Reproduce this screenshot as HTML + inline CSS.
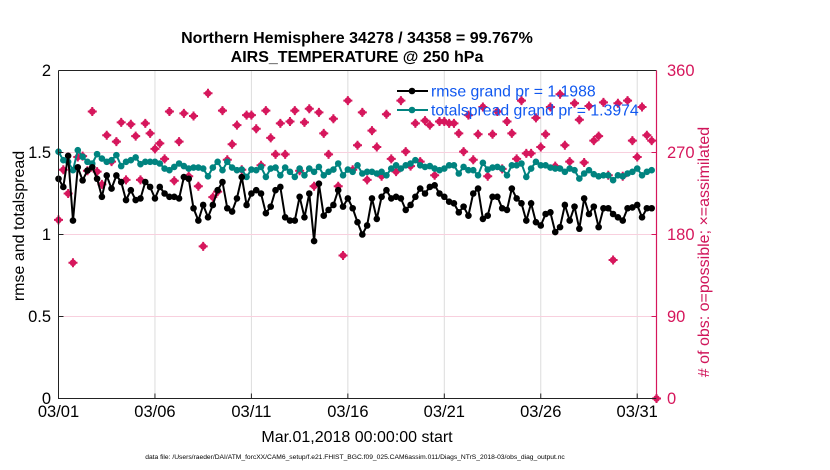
<!DOCTYPE html>
<html><head><meta charset="utf-8"><style>
html,body{margin:0;padding:0;background:#fff;}
svg{display:block;font-family:"Liberation Sans",Arial,sans-serif;}
</style></head><body>
<svg id="chart" width="830" height="470" viewBox="0 0 830 470">
<rect width="830" height="470" fill="#fff"/>
<text x="357" y="43" text-anchor="middle" font-size="16" font-weight="bold">Northern Hemisphere 34278 / 34358 = 99.767%</text>
<text x="357" y="62" text-anchor="middle" font-size="16" font-weight="bold">AIRS_TEMPERATURE @ 250 hPa</text>
<g id="grid"></g>
<g id="series"></g>
<g id="axes"></g>
<g id="legend"></g>
<text transform="translate(24,226) rotate(-90)" text-anchor="middle" font-size="16">rmse and totalspread</text>
<text transform="translate(709,252) rotate(-90)" text-anchor="middle" font-size="16" fill="#d0155a"># of obs: o=possible; ×=assimilated</text>
<text x="357" y="442" text-anchor="middle" font-size="16">Mar.01,2018 00:00:00 start</text>
<text x="355" y="459" text-anchor="middle" font-size="6.7">data file: /Users/raeder/DAI/ATM_forcXX/CAM6_setup/f.e21.FHIST_BGC.f09_025.CAM6assim.011/Diags_NTrS_2018-03/obs_diag_output.nc</text>
</svg>
<script>
const xTickLabels=["03/01","03/06","03/11","03/16","03/21","03/26","03/31"];
const xTickDays=[0,5,10,15,20,25,30];
const leftTicks=[0,0.5,1,1.5,2];
const rightTicks=[0,90,180,270,360];
const stepDays=0.25;
const rmse=[1.34,1.29,1.48,1.085,1.41,1.33,1.39,1.41,1.34,1.23,1.36,1.28,1.36,1.32,1.21,1.27,1.21,1.22,1.32,1.29,1.22,1.29,1.25,1.23,1.23,1.22,1.35,1.34,1.16,1.085,1.18,1.105,1.18,1.27,1.32,1.16,1.14,1.22,1.35,1.18,1.25,
1.27,1.25,1.13,1.17,1.27,1.29,1.105,1.085,1.085,1.23,1.105,1.25,0.96,1.31,1.115,1.15,1.18,1.27,1.17,1.22,1.16,1.075,1.0,1.055,1.22,1.095,1.23,1.27,1.22,1.23,1.22,1.15,1.18,1.23,1.28,1.25,1.29,1.30,1.25,1.23,1.2,
1.19,1.135,1.17,1.115,1.25,1.28,1.095,1.115,1.23,1.23,1.16,1.15,1.28,1.22,1.19,1.085,1.19,1.075,1.055,1.125,1.135,1.015,1.045,1.18,1.085,1.17,1.035,1.22,1.125,1.17,1.045,1.16,1.16,1.125,1.105,1.085,1.16,1.165,1.18,1.105,1.16,1.16];
const spread=[1.505,1.453,1.443,1.392,1.514,1.474,1.443,1.433,1.49,1.463,1.443,1.453,1.484,1.417,1.443,1.453,1.47,1.429,1.443,1.443,1.443,1.433,1.402,1.392,1.412,1.433,1.417,1.402,1.408,1.408,1.402,1.355,1.408,1.443,1.392,1.443,1.408,1.392,1.396,1.351,1.396,
1.392,1.412,1.351,1.402,1.408,1.361,1.408,1.382,1.351,1.402,1.361,1.402,1.382,1.412,1.361,1.382,1.396,1.433,1.361,1.396,1.382,1.422,1.372,1.382,1.382,1.372,1.382,1.361,1.402,1.422,1.402,1.422,1.433,1.453,1.422,1.412,1.417,1.402,1.392,1.402,1.422,
1.422,1.372,1.412,1.392,1.392,1.361,1.437,1.396,1.408,1.412,1.402,1.361,1.422,1.422,1.433,1.351,1.402,1.443,1.422,1.422,1.408,1.402,1.402,1.382,1.402,1.392,1.341,1.372,1.392,1.368,1.355,1.361,1.361,1.331,1.361,1.355,1.372,1.382,1.402,1.361,1.382,1.392];
const obsCount=[196,251,225,149,265,266,250,315,249,235,289,260,282,303,240,301,288,240,302,291,274,280,263,315,239,282,313,244,310,233,167,335,221,227,316,262,279,300,251,311,
311,296,256,316,286,268,302,268,304,316,250,303,318,233,314,291,268,307,233,157,327,251,278,314,240,294,276,244,312,263,249,327,271,255,302,260,305,300,245,304,304,302,
302,291,271,311,262,290,320,244,290,315,252,304,291,263,327,269,269,308,276,290,320,255,334,278,260,324,306,259,321,283,288,325,245,152,324,244,327,283,265,320,289,283,0];

const NS="http://www.w3.org/2000/svg";
const X0=58.5,X1=656.5,D0=0,D1=31,Y0=398.5,Y1=70.5;
const xs=d=>X0+(d-D0)/(D1-D0)*(X1-X0);
const yl=v=>Y0-v/2*(Y0-Y1);
const yr=v=>Y0-v/360*(Y0-Y1);
function mk(tag,attrs,parent){const e=document.createElementNS(NS,tag);for(const k in attrs)e.setAttribute(k,attrs[k]);parent.appendChild(e);return e;}
const grid=document.getElementById('grid'),ser=document.getElementById('series'),axes=document.getElementById('axes'),leg=document.getElementById('legend');
const MAG="#d6175c",TEAL="#00837f";

xTickDays.forEach((d,i)=>{
  if(d>0){const g=mk('line',{x1:xs(d),x2:xs(d),y1:Y1,y2:Y0,stroke:'#dcdcdc','stroke-width':1},grid);
  
  }
  const t=mk('text',{x:xs(d),y:417,'text-anchor':'middle','font-size':16.5},axes);t.textContent=xTickLabels[i];
  
  
  const tk=mk('line',{x1:xs(d),x2:xs(d),y1:Y0,y2:Y0-5,stroke:'#222'},axes);
  
  
});
rightTicks.forEach(v=>{
  if(v>0&&v<360){const g=mk('line',{x1:X0,x2:X1,y1:yr(v),y2:yr(v),stroke:'#f8d0de','stroke-width':1},grid);
  
  }
  const t=mk('text',{x:667,y:yr(v)+5.5,'font-size':16.5,fill:MAG},axes);t.textContent=v;
  
  
  const tk=mk('line',{x1:X1,x2:X1-5,y1:yr(v),y2:yr(v),stroke:MAG},axes);
  
  
});
leftTicks.forEach(v=>{
  const t=mk('text',{x:51,y:yl(v)+5.5,'text-anchor':'end','font-size':16.5},axes);t.textContent=v;
  
  
  const tk=mk('line',{x1:X0,x2:X0+5,y1:yl(v),y2:yl(v),stroke:'#222'},axes);
  
  
});
const frame=mk('path',{d:`M${X0},${Y1}H${X1}M${X0},${Y1}V${Y0}H${X1}`,stroke:'#222',fill:'none','stroke-width':1},axes);


const rax=mk('line',{x1:X1,x2:X1,y1:Y1,y2:Y0,stroke:MAG,'stroke-width':1.2},axes);



function drawMag(x,y,parent){
  const g=mk('g',{},parent);
  mk('circle',{cx:x,cy:y,r:3.3,fill:MAG},g);
  mk('path',{d:`M${x-4.5},${y}H${x+4.5}M${x},${y-4.5}V${y+4.5}`,stroke:MAG,'stroke-width':2},g);
  return g;
}
obsCount.forEach((v,i)=>{
  const g=drawMag(xs(i*stepDays),yr(v),ser);
  
  
});
function drawLine(vals,color,name){
  const pts=vals.map((v,i)=>xs(i*stepDays).toFixed(1)+','+yl(v).toFixed(1)).join(' ');
  const pl=mk('polyline',{points:pts,fill:'none',stroke:color,'stroke-width':2},ser);
  
  
  vals.forEach((v,i)=>{
    const c=mk('circle',{cx:xs(i*stepDays),cy:yl(v),r:3.3,fill:color},ser);
    
    
  });
}
drawLine(spread,TEAL,'totalspread');
drawLine(rmse,'#000','rmse');

[["rmse grand pr = 1.1988",'#000',91],["totalspread grand pr = 1.3974",TEAL,110]].forEach((r,i)=>{
  const g=mk('g',{},leg);
  
  
  mk('line',{x1:397,x2:428,y1:r[2],y2:r[2],stroke:r[1],'stroke-width':2},g);
  mk('circle',{cx:412,cy:r[2],r:3.3,fill:r[1]},g);
  const t=mk('text',{x:431,y:r[2]+5.5,'font-size':15.8,fill:'#1058f0'},g);t.textContent=r[0];
});
</script>
</body></html>
